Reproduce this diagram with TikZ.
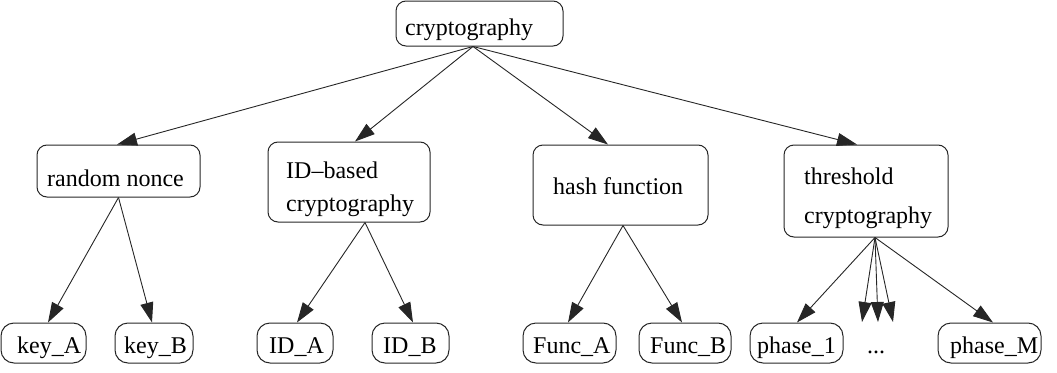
\documentclass[tikz,border=0pt]{standalone}
\usepackage{fontspec}
\setmainfont{Liberation Serif}
\usetikzlibrary{arrows.meta}

\tikzset{
  box/.style={draw=black!85, line width=1pt, rounded corners=10pt, inner sep=0pt},
  lbl/.style={inner sep=0pt, anchor=base west, font=\fontsize{24}{24}\selectfont},
  conn/.style={draw=black!85, line width=0.9pt, -{Triangle[length=20pt,width=13pt]}},
}

\begin{document}
\begin{tikzpicture}[x=1pt, y=-1pt]
\useasboundingbox (0,0) rectangle (1057,372);

% frames of the tree nodes
\node[box, minimum width=167pt, minimum height=45pt] (crypto) at (479.5,23.5) {};
\node[box, minimum width=163pt, minimum height=52pt] (nonce)  at (118.5,171) {};
\node[box, minimum width=162pt, minimum height=80pt] (idb)    at (349,182) {};
\node[box, minimum width=175pt, minimum height=80pt] (hash)   at (620.5,185) {};
\node[box, minimum width=164pt, minimum height=92pt] (thresh) at (866,191) {};

\node[box, minimum width=85pt,  minimum height=40pt, rounded corners=13pt] (keyA)  at (43.5,343) {};
\node[box, minimum width=78pt,  minimum height=40pt, rounded corners=13pt] (keyB)  at (154,343) {};
\node[box, minimum width=76pt,  minimum height=40pt, rounded corners=13pt] (idA)   at (295,343) {};
\node[box, minimum width=77pt,  minimum height=40pt, rounded corners=13pt] (idB)   at (410.5,343) {};
\node[box, minimum width=93pt,  minimum height=40pt, rounded corners=13pt] (funcA) at (569.5,343) {};
\node[box, minimum width=92pt,  minimum height=40pt, rounded corners=13pt] (funcB) at (685,343) {};
\node[box, minimum width=93pt,  minimum height=40pt, rounded corners=13pt] (ph1)   at (796.5,343) {};
\node[box, minimum width=103pt, minimum height=40pt, rounded corners=13pt] (phM)   at (989.5,343) {};

% labels
\node[lbl] (crypto-t)  at (405,35)  {cryptography};
\node[lbl] (nonce-t)   at (47,186)  {random nonce};
\node[lbl] (idb-t1)    at (286,178) {ID–based};
\node[lbl] (idb-t2)    at (286,211) {cryptography};
\node[lbl] (hash-t)    at (553,194) {hash function};
\node[lbl] (thresh-t1) at (804,184) {threshold};
\node[lbl] (thresh-t2) at (804,223) {cryptography};

\node[lbl] (keyA-t)  at (17,353)  {key\_A};
\node[lbl] (keyB-t)  at (124,353) {key\_B};
\node[lbl] (idA-t)   at (269,353) {ID\_A};
\node[lbl] (idB-t)   at (383,353) {ID\_B};
\node[lbl] (funcA-t) at (533,353) {Func\_A};
\node[lbl] (funcB-t) at (650,353) {Func\_B};
\node[lbl] (ph1-t)   at (757,353) {phase\_1};
\node[lbl] (dots)    at (867,353) {...};
\node[lbl] (phM-t)   at (950,353) {phase\_M};

% loose ends of the elided phase edges
\coordinate (d1) at (862,322);
\coordinate (d2) at (878,322);
\coordinate (d3) at (893,322);

% edges
\draw[conn] ([xshift=-6.5pt]crypto.south) -- ([xshift=-1.5pt]nonce.north);
\draw[conn] ([xshift=-6.5pt]crypto.south) -- ([xshift=6pt]idb.north);
\draw[conn] ([xshift=-6.5pt]crypto.south) -- ([xshift=-12.5pt]hash.north);
\draw[conn] ([xshift=-6.5pt]crypto.south) -- ([xshift=-9pt]thresh.north);

\draw[conn] (nonce.south) -- ([xshift=4.5pt]keyA.north);
\draw[conn] (nonce.south) -- ([xshift=-2pt]keyB.north);

\draw[conn] ([xshift=16pt]idb.south) -- ([xshift=2pt]idA.north);
\draw[conn] ([xshift=16pt]idb.south) -- ([xshift=2.5pt]idB.north);

\draw[conn] ([xshift=2.5pt]hash.south) -- ([xshift=-1.5pt]funcA.north);
\draw[conn] ([xshift=2.5pt]hash.south) -- ([xshift=-3pt]funcB.north);

\draw[conn] ([xshift=9pt]thresh.south) -- ([xshift=0.5pt]ph1.north);
\draw[conn] ([xshift=9pt]thresh.south) -- (d1);
\draw[conn] ([xshift=9pt]thresh.south) -- (d2);
\draw[conn] ([xshift=9pt]thresh.south) -- (d3);
\draw[conn] ([xshift=9pt]thresh.south) -- ([xshift=3.5pt]phM.north);
\end{tikzpicture}
\end{document}
